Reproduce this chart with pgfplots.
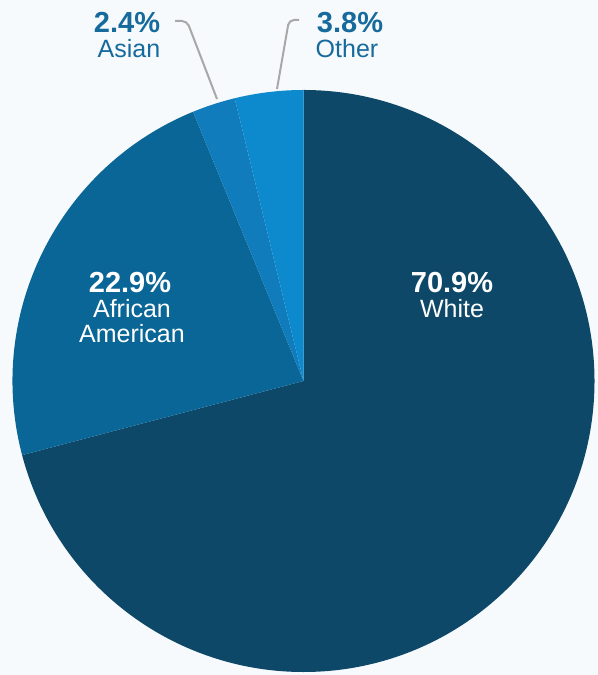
\documentclass[border=0pt]{standalone}
\usepackage{fontspec}
\setmainfont{Liberation Sans}
\usepackage{pgfplots}
\pgfplotsset{compat=1.18}

\definecolor{bg}{RGB}{247,250,252}
\definecolor{cWhite}{RGB}{14,72,104}
\definecolor{cAfr}{RGB}{10,102,150}
\definecolor{cAsian}{RGB}{16,124,188}
\definecolor{cOther}{RGB}{12,138,205}
\definecolor{lbl}{RGB}{22,106,156}
\definecolor{lead}{RGB}{168,168,168}

% #1 cumulative share before the slice, #2 share, #3 colour
\newcommand\slice[3]{%
  \fill[#3] (axis cs:303.5,294) -- +({90-3.6*#1}:291bp)
    arc[start angle={90-3.6*#1}, end angle={90-3.6*(#1+#2)}, radius=291bp] -- cycle;
}

\newcommand\pctfont{\fontsize{29bp}{29bp}\selectfont\bfseries}
\newcommand\namefont{\fontsize{25bp}{25bp}\selectfont}

\begin{document}
\begin{tikzpicture}
\begin{axis}[
  x=1bp, y=1bp,
  xmin=0, xmax=598, ymin=0, ymax=675,
  hide axis, clip=false,
]
\fill[bg] (axis cs:0,0) rectangle (axis cs:598,675);
\coordinate (bl) at (axis cs:0,0);
\coordinate (tr) at (axis cs:598,675);

% shares in percent: White, African American, Asian, Other
\slice{0}{70.9}{cWhite}
\slice{70.9}{22.9}{cAfr}
\slice{93.8}{2.4}{cAsian}
\slice{96.2}{3.8}{cOther}

% leader lines
\draw[lead, line width=2bp, rounded corners=5bp]
  (axis cs:175,654) -- (axis cs:187,654) -- (axis cs:217,576);
\draw[lead, line width=2bp, rounded corners=5bp]
  (axis cs:277,586) -- (axis cs:289,655) -- (axis cs:299,655);

% outside labels
\node[anchor=base, text=lbl, inner sep=0] at (axis cs:127,642) {\pctfont 2.4\%};
\node[anchor=base, text=lbl, inner sep=0] at (axis cs:129,617) {\namefont Asian};
\node[anchor=base, text=lbl, inner sep=0] at (axis cs:350,642) {\pctfont 3.8\%};
\node[anchor=base, text=lbl, inner sep=0] at (axis cs:347,617) {\namefont Other};

% inside labels
\node[anchor=base, text=white, inner sep=0] at (axis cs:130,382) {\pctfont 22.9\%};
\node[anchor=base, text=white, inner sep=0] at (axis cs:132,357) {\namefont African};
\node[anchor=base, text=white, inner sep=0] at (axis cs:132,332) {\namefont American};
\node[anchor=base, text=white, inner sep=0] at (axis cs:452,382) {\pctfont 70.9\%};
\node[anchor=base, text=white, inner sep=0] at (axis cs:452,357) {\namefont White};
\end{axis}
\pgfresetboundingbox
\useasboundingbox (bl) rectangle (tr);
\end{tikzpicture}
\end{document}
